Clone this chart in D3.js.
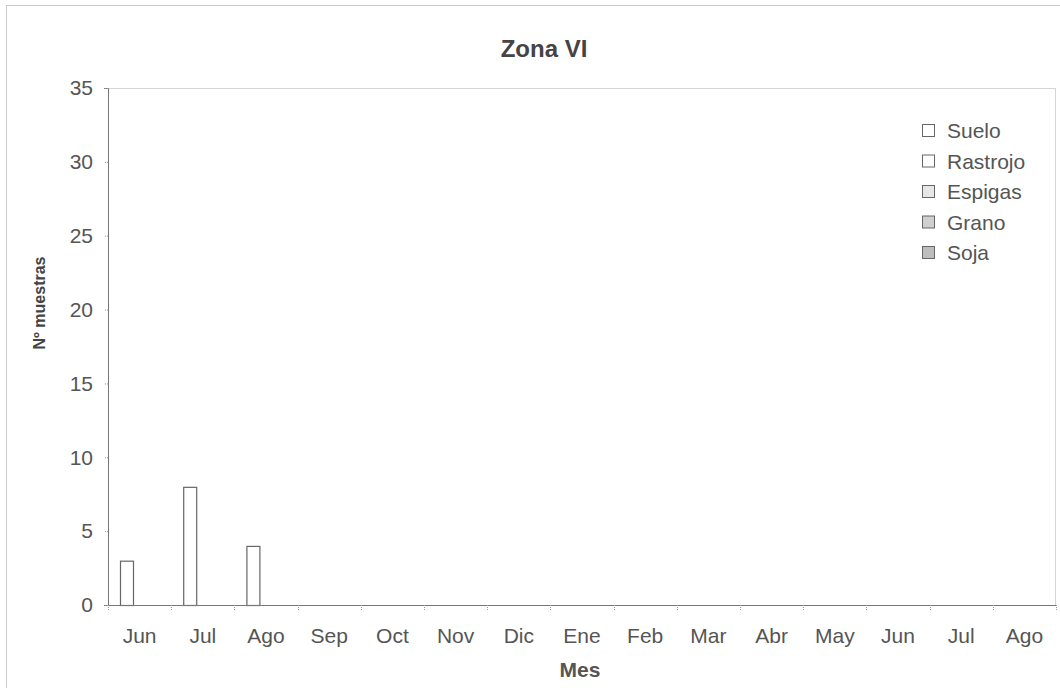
<!DOCTYPE html>
<html>
<head>
<meta charset="utf-8">
<script src="https://cdn.jsdelivr.net/npm/d3@7"></script>
<style>
  html, body { margin: 0; padding: 0; background: #fff; }
  svg { display: block; font-family: 'Liberation Sans', Arial, sans-serif; }
</style>
</head>
<body>
<div id="chart"></div>
<script>
const months = ['Jun', 'Jul', 'Ago', 'Sep', 'Oct', 'Nov', 'Dic', 'Ene', 'Feb', 'Mar', 'Abr', 'May', 'Jun', 'Jul', 'Ago'];
const seriesNames = ['Suelo', 'Rastrojo', 'Espigas', 'Grano', 'Soja'];
const suelo    = [3, 8, 4, 0, 0, 0, 0, 0, 0, 0, 0, 0, 0, 0, 0];
const rastrojo = [0, 0, 0, 0, 0, 0, 0, 0, 0, 0, 0, 0, 0, 0, 0];
const espigas  = [0, 0, 0, 0, 0, 0, 0, 0, 0, 0, 0, 0, 0, 0, 0];
const grano    = [0, 0, 0, 0, 0, 0, 0, 0, 0, 0, 0, 0, 0, 0, 0];
const soja     = [0, 0, 0, 0, 0, 0, 0, 0, 0, 0, 0, 0, 0, 0, 0];
const yTicks = [0, 5, 10, 15, 20, 25, 30, 35];

const d3 = window.d3;
const totalW = 1060, totalH = 688;
const margin = { top: 88, right: 4, bottom: 83, left: 108 };
const W = totalW - margin.left - margin.right;
const H = totalH - margin.top - margin.bottom;
const FONT = "'Liberation Sans', Arial, sans-serif";

const svg = d3.select('#chart').append('svg')
  .attr('width', totalW).attr('height', totalH);

// chart border (dotted, like the scanned Excel frame)
svg.append('rect')
  .attr('x', 6.5).attr('y', 5.5).attr('width', 1080).attr('height', 720)
  .attr('fill', 'none').attr('stroke', '#999').attr('stroke-width', 1)
  .attr('stroke-dasharray', '1,1');

svg.append('text')
  .attr('x', 544).attr('y', 57)
  .attr('text-anchor', 'middle')
  .attr('font-size', '24px').attr('font-weight', 'bold').attr('fill', '#444')
  .text('Zona VI');

const g = svg.append('g').attr('transform', `translate(${margin.left},${margin.top})`);

const x0 = d3.scaleBand().domain(d3.range(months.length)).range([0, W]).padding(0);
const x1 = d3.scaleBand().domain(seriesNames).range([12, 12 + 14 * 5]).padding(0);
const y = d3.scaleLinear().domain([0, 35]).range([H, 0]);

// plot area border
g.append('rect')
  .attr('x', 0.5).attr('y', 0.5).attr('width', W - 1).attr('height', H)
  .attr('fill', 'none').attr('stroke', '#aaa').attr('stroke-dasharray', '1,1');

// bars
const seriesData = [suelo, rastrojo, espigas, grano, soja];
const fills = ['#fff', '#fff', '#e6e6e6', '#cfcfcf', '#bdbdbd'];
seriesNames.forEach((name, si) => {
  g.append('g').selectAll('rect')
    .data(seriesData[si].map((v, i) => ({ i, v })).filter(d => d.v > 0))
    .enter().append('rect')
    .attr('x', d => x0(d.i) + x1(name) + 0.5)
    .attr('y', d => y(d.v) + 0.5)
    .attr('width', x1.bandwidth() - 1)
    .attr('height', d => H - y(d.v))
    .attr('fill', fills[si])
    .attr('stroke', '#666').attr('stroke-width', 1.2);
});

// y axis
const yAxis = g.append('g')
  .call(d3.axisLeft(y).tickValues(yTicks).tickSize(4).tickPadding(11));
yAxis.select('.domain').attr('stroke', '#777');
yAxis.selectAll('.tick line').attr('stroke', '#999').attr('stroke-dasharray', '1,1');
yAxis.selectAll('.tick text')
  .attr('fill', '#555').attr('font-size', '21px').attr('font-family', FONT);

// x axis
const xAxis = g.append('g').attr('transform', `translate(0,${H})`)
  .call(d3.axisBottom(x0).tickSize(0).tickFormat(i => months[i]).tickPadding(23));
xAxis.select('.domain').attr('stroke', '#777');
xAxis.selectAll('.tick text')
  .attr('fill', '#555').attr('font-size', '21px').attr('font-family', FONT);
g.append('g').selectAll('line')
  .data(d3.range(months.length + 1)).enter().append('line')
  .attr('x1', i => Math.round(i * x0.step()) + 0.5).attr('x2', i => Math.round(i * x0.step()) + 0.5)
  .attr('y1', H).attr('y2', H + 5)
  .attr('stroke', '#999').attr('stroke-dasharray', '1,1');

// axis titles
svg.append('text')
  .attr('transform', 'translate(45,303) rotate(-90)')
  .attr('text-anchor', 'middle')
  .attr('font-size', '16px').attr('font-weight', 'bold').attr('fill', '#444')
  .text('Nº muestras');
svg.append('text')
  .attr('x', 580).attr('y', 677)
  .attr('text-anchor', 'middle')
  .attr('font-size', '21px').attr('font-weight', 'bold').attr('fill', '#555')
  .text('Mes');

// legend
const legend = svg.append('g').attr('transform', 'translate(922,124)');
seriesNames.forEach((name, i) => {
  const lg = legend.append('g').attr('transform', `translate(0,${i * 30.5})`);
  lg.append('rect').attr('x', 0.5).attr('y', 0.5).attr('width', 12).attr('height', 12)
    .attr('fill', fills[i]).attr('stroke', '#666');
  lg.append('text').attr('x', 25).attr('y', 14)
    .attr('fill', '#555').attr('font-size', '21px')
    .text(name);
});
</script>
</body>
</html>
